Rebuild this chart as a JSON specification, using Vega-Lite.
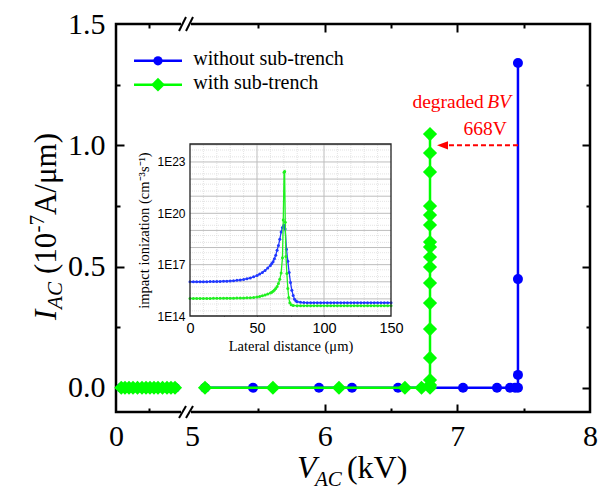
{
  "$schema": "https://vega.github.io/schema/vega-lite/v6.json",
  "width": 474,
  "height": 388,
  "autosize": {"type": "none"},
  "padding": {"left": 116, "top": 24, "right": 9, "bottom": 79},
  "background": "white",
  "config": {
    "view": {"stroke": "#000", "strokeWidth": 2.5},
    "font": "Liberation Serif"
  },
  "datasets": {
    "blue": [
      {"k": 1, "seg": "a", "kv": 0.08, "ia": 0}, {"k": 2, "seg": "a", "kv": 0.136, "ia": 0},
      {"k": 3, "seg": "a", "kv": 0.197, "ia": 0}, {"k": 4, "seg": "a", "kv": 0.258, "ia": 0},
      {"k": 5, "seg": "a", "kv": 0.326, "ia": 0}, {"k": 6, "seg": "a", "kv": 0.394, "ia": 0},
      {"k": 7, "seg": "a", "kv": 0.455, "ia": 0}, {"k": 8, "seg": "a", "kv": 0.515, "ia": 0},
      {"k": 9, "seg": "a", "kv": 0.576, "ia": 0}, {"k": 10, "seg": "a", "kv": 0.636, "ia": 0},
      {"k": 11, "seg": "a", "kv": 0.705, "ia": 0}, {"k": 12, "seg": "a", "kv": 0.773, "ia": 0},
      {"k": 13, "seg": "a", "kv": 0.833, "ia": 0}, {"k": 14, "seg": "a", "kv": 0.894, "ia": 0},
      {"k": 15, "seg": "b", "kv": 5.098, "ia": 0}, {"k": 16, "seg": "b", "kv": 5.46, "ia": 0},
      {"k": 17, "seg": "b", "kv": 5.957, "ia": 0}, {"k": 18, "seg": "b", "kv": 6.206, "ia": 0},
      {"k": 19, "seg": "b", "kv": 6.553, "ia": 0}, {"k": 20, "seg": "b", "kv": 7.043, "ia": 0},
      {"k": 21, "seg": "b", "kv": 7.299, "ia": 0}, {"k": 22, "seg": "b", "kv": 7.397, "ia": 0},
      {"k": 23, "seg": "b", "kv": 7.435, "ia": 0}, {"k": 24, "seg": "b", "kv": 7.457, "ia": 0},
      {"k": 25, "seg": "b", "kv": 7.457, "ia": 0.053}, {"k": 26, "seg": "b", "kv": 7.457, "ia": 0.448},
      {"k": 27, "seg": "b", "kv": 7.457, "ia": 1.339}
    ],
    "green": [
      {"k": 1, "seg": "a", "kv": 0.08, "ia": 0}, {"k": 2, "seg": "a", "kv": 0.136, "ia": 0},
      {"k": 3, "seg": "a", "kv": 0.197, "ia": 0}, {"k": 4, "seg": "a", "kv": 0.258, "ia": 0},
      {"k": 5, "seg": "a", "kv": 0.326, "ia": 0}, {"k": 6, "seg": "a", "kv": 0.394, "ia": 0},
      {"k": 7, "seg": "a", "kv": 0.455, "ia": 0}, {"k": 8, "seg": "a", "kv": 0.515, "ia": 0},
      {"k": 9, "seg": "a", "kv": 0.576, "ia": 0}, {"k": 10, "seg": "a", "kv": 0.636, "ia": 0},
      {"k": 11, "seg": "a", "kv": 0.705, "ia": 0}, {"k": 12, "seg": "a", "kv": 0.773, "ia": 0},
      {"k": 13, "seg": "a", "kv": 0.833, "ia": 0}, {"k": 14, "seg": "a", "kv": 0.894, "ia": 0},
      {"k": 15, "seg": "b", "kv": 5.098, "ia": 0}, {"k": 16, "seg": "b", "kv": 5.61, "ia": 0},
      {"k": 17, "seg": "b", "kv": 6.108, "ia": 0}, {"k": 18, "seg": "b", "kv": 6.605, "ia": 0},
      {"k": 19, "seg": "b", "kv": 6.73, "ia": 0}, {"k": 20, "seg": "b", "kv": 6.794, "ia": 0},
      {"k": 21, "seg": "b", "kv": 6.794, "ia": 0.011}, {"k": 22, "seg": "b", "kv": 6.794, "ia": 0.032},
      {"k": 23, "seg": "b", "kv": 6.794, "ia": 0.123}, {"k": 24, "seg": "b", "kv": 6.794, "ia": 0.242},
      {"k": 25, "seg": "b", "kv": 6.794, "ia": 0.349}, {"k": 26, "seg": "b", "kv": 6.794, "ia": 0.432},
      {"k": 27, "seg": "b", "kv": 6.794, "ia": 0.498}, {"k": 28, "seg": "b", "kv": 6.794, "ia": 0.539},
      {"k": 29, "seg": "b", "kv": 6.794, "ia": 0.58}, {"k": 30, "seg": "b", "kv": 6.794, "ia": 0.601},
      {"k": 31, "seg": "b", "kv": 6.794, "ia": 0.671}, {"k": 32, "seg": "b", "kv": 6.794, "ia": 0.712},
      {"k": 33, "seg": "b", "kv": 6.794, "ia": 0.749}, {"k": 34, "seg": "b", "kv": 6.794, "ia": 0.89},
      {"k": 35, "seg": "b", "kv": 6.794, "ia": 0.968}, {"k": 36, "seg": "b", "kv": 6.794, "ia": 1.046}
    ],
    "iblue": [
      {"x": 0, "v": 1.0e16}, {"x": 2.5, "v": 1.0e16}, {"x": 5, "v": 1.0e16}, {"x": 7.5, "v": 1.0e16},
      {"x": 10, "v": 1.0e16}, {"x": 12.5, "v": 1.01e16}, {"x": 15, "v": 1.02e16}, {"x": 17.5, "v": 1.03e16},
      {"x": 20, "v": 1.04e16}, {"x": 22.5, "v": 1.05e16}, {"x": 25, "v": 1.07e16}, {"x": 27.5, "v": 1.09e16},
      {"x": 30, "v": 1.12e16}, {"x": 32.5, "v": 1.16e16}, {"x": 35, "v": 1.21e16}, {"x": 37.5, "v": 1.28e16},
      {"x": 40, "v": 1.37e16}, {"x": 42.5, "v": 1.5e16}, {"x": 45, "v": 1.68e16}, {"x": 47.5, "v": 1.95e16},
      {"x": 50, "v": 2.3e16}, {"x": 52, "v": 2.8e16}, {"x": 54, "v": 3.5e16}, {"x": 56, "v": 4.6e16},
      {"x": 58, "v": 6.3e16}, {"x": 60, "v": 9e16}, {"x": 61, "v": 1.15e17}, {"x": 62, "v": 1.5e17},
      {"x": 63, "v": 2.2e17}, {"x": 64, "v": 3.6e17}, {"x": 65, "v": 7e17}, {"x": 66, "v": 1.3e18},
      {"x": 67, "v": 3e18}, {"x": 68, "v": 8e18}, {"x": 69, "v": 1.5e19}, {"x": 70, "v": 2e19},
      {"x": 71, "v": 1.2e19}, {"x": 72, "v": 8e17}, {"x": 73, "v": 1.6e17}, {"x": 74, "v": 3.5e16},
      {"x": 75, "v": 9e15}, {"x": 76, "v": 3.2e15}, {"x": 77, "v": 1.6e15}, {"x": 78, "v": 9.5e14},
      {"x": 79, "v": 7.5e14}, {"x": 80, "v": 6.8e14}, {"x": 82.5, "v": 6.3e14}, {"x": 85, "v": 6.1e14},
      {"x": 87.5, "v": 6e14}, {"x": 90, "v": 6e14}, {"x": 92.5, "v": 6e14}, {"x": 95, "v": 6e14},
      {"x": 97.5, "v": 6e14}, {"x": 100, "v": 6e14}, {"x": 102.5, "v": 6e14}, {"x": 105, "v": 6e14},
      {"x": 107.5, "v": 6e14}, {"x": 110, "v": 6e14}, {"x": 112.5, "v": 6e14}, {"x": 115, "v": 6e14},
      {"x": 117.5, "v": 6e14}, {"x": 120, "v": 6e14}, {"x": 122.5, "v": 6e14}, {"x": 125, "v": 6e14},
      {"x": 127.5, "v": 6e14}, {"x": 130, "v": 6e14}, {"x": 132.5, "v": 6e14}, {"x": 135, "v": 6e14},
      {"x": 137.5, "v": 6e14}, {"x": 140, "v": 6e14}, {"x": 142.5, "v": 6e14}, {"x": 145, "v": 6e14},
      {"x": 147.5, "v": 6e14}, {"x": 150, "v": 6e14}
    ],
    "igreen": [
      {"x": 0, "v": 1.07e15}, {"x": 2.5, "v": 1.07e15}, {"x": 5, "v": 1.07e15}, {"x": 7.5, "v": 1.07e15},
      {"x": 10, "v": 1.07e15}, {"x": 12.5, "v": 1.07e15}, {"x": 15, "v": 1.07e15}, {"x": 17.5, "v": 1.08e15},
      {"x": 20, "v": 1.08e15}, {"x": 22.5, "v": 1.08e15}, {"x": 25, "v": 1.09e15}, {"x": 27.5, "v": 1.09e15},
      {"x": 30, "v": 1.1e15}, {"x": 32.5, "v": 1.1e15}, {"x": 35, "v": 1.11e15}, {"x": 37.5, "v": 1.12e15},
      {"x": 40, "v": 1.13e15}, {"x": 42.5, "v": 1.15e15}, {"x": 45, "v": 1.17e15}, {"x": 47.5, "v": 1.22e15},
      {"x": 50, "v": 1.3e15}, {"x": 52, "v": 1.38e15}, {"x": 54, "v": 1.5e15}, {"x": 56, "v": 1.68e15},
      {"x": 58, "v": 1.9e15}, {"x": 60, "v": 2.2e15}, {"x": 61, "v": 2.45e15}, {"x": 62, "v": 2.8e15},
      {"x": 63, "v": 3.3e15}, {"x": 64, "v": 4e15}, {"x": 65, "v": 5.3e15}, {"x": 66, "v": 8e15},
      {"x": 67, "v": 1.4e16}, {"x": 68, "v": 3.2e16}, {"x": 69, "v": 2.5e17}, {"x": 69.6, "v": 4e19},
      {"x": 70.2, "v": 2.5e22}, {"x": 70.6, "v": 2.8e22}, {"x": 71.1, "v": 3e19}, {"x": 71.6, "v": 3e17},
      {"x": 72.3, "v": 3e16}, {"x": 73, "v": 4e15}, {"x": 73.7, "v": 1.2e15}, {"x": 74.5, "v": 6e14},
      {"x": 75.5, "v": 4.5e14}, {"x": 77, "v": 4.1e14}, {"x": 80, "v": 4e14}, {"x": 82.5, "v": 4e14},
      {"x": 85, "v": 4e14}, {"x": 87.5, "v": 4e14}, {"x": 90, "v": 4e14}, {"x": 92.5, "v": 4e14},
      {"x": 95, "v": 4e14}, {"x": 97.5, "v": 4e14}, {"x": 100, "v": 4e14}, {"x": 102.5, "v": 4e14},
      {"x": 105, "v": 4e14}, {"x": 107.5, "v": 4e14}, {"x": 110, "v": 4e14}, {"x": 112.5, "v": 4e14},
      {"x": 115, "v": 4e14}, {"x": 117.5, "v": 4e14}, {"x": 120, "v": 4e14}, {"x": 122.5, "v": 4e14},
      {"x": 125, "v": 4e14}, {"x": 127.5, "v": 4e14}, {"x": 130, "v": 4e14}, {"x": 132.5, "v": 4e14},
      {"x": 135, "v": 4e14}, {"x": 137.5, "v": 4e14}, {"x": 140, "v": 4e14}, {"x": 142.5, "v": 4e14},
      {"x": 145, "v": 4e14}, {"x": 147.5, "v": 4e14}, {"x": 150, "v": 4e14}
    ],
    "gridxMinor": [
      {"g": 10}, {"g": 20}, {"g": 30}, {"g": 40}, {"g": 60}, {"g": 70},
      {"g": 80}, {"g": 90}, {"g": 110}, {"g": 120}, {"g": 130}, {"g": 140}
    ],
    "gridxMajor": [{"g": 50}, {"g": 100}],
    "gridyMinor": [
      {"g": 2e14}, {"g": 5e14}, {"g": 2e15}, {"g": 5e15}, {"g": 2e16}, {"g": 5e16},
      {"g": 2e17}, {"g": 5e17}, {"g": 2e18}, {"g": 5e18}, {"g": 2e19}, {"g": 5e19},
      {"g": 2e20}, {"g": 5e20}, {"g": 2e21}, {"g": 5e21}, {"g": 2e22}, {"g": 5e22},
      {"g": 2e23}, {"g": 5e23}
    ],
    "gridyMajor": [
      {"g": 1e15}, {"g": 1e16}, {"g": 1e17}, {"g": 1e18}, {"g": 1e19},
      {"g": 1e20}, {"g": 1e21}, {"g": 1e22}, {"g": 1e23}, {"g": 1e24}
    ]
  },
  "layer": [
    {
      "layer": [
        {
          "data": {"name": "blue"},
          "mark": {"type": "line", "color": "#0000ff", "strokeWidth": 2.5},
          "encoding": {
            "x": {
              "field": "kv", "type": "quantitative", "title": null,
              "scale": {"domain": [0, 1, 5, 8], "range": [0, 66, 76, 474], "nice": false, "zero": false},
              "axis": {
                "orient": "bottom", "title": null, "domain": false, "grid": false, "ticks": false,
                "values": [0, 5, 6, 7, 8],
                "labelExpr": "format(datum.value, 'd')",
                "labelFont": "Liberation Serif", "labelFontSize": 30, "labelColor": "#000",
                "labelPadding": 9, "labelFlush": false, "labelOverlap": false, "labelBound": false
              }
            },
            "y": {
              "field": "ia", "type": "quantitative", "title": null,
              "scale": {"domain": [-0.1, 1.5], "nice": false, "zero": false},
              "axis": {
                "orient": "left", "title": null, "domain": false, "grid": false, "ticks": false,
                "values": [0, 0.5, 1, 1.5], "format": ".1f",
                "labelFont": "Liberation Serif", "labelFontSize": 30, "labelColor": "#000",
                "labelPadding": 11, "labelFlush": false, "labelOverlap": false, "labelBound": false
              }
            },
            "detail": {"field": "seg"},
            "order": {"field": "k", "type": "quantitative"}
          }
        },
        {
          "data": {"name": "blue"},
          "mark": {"type": "point", "shape": "circle", "filled": true, "size": 100, "color": "#0000ff", "opacity": 1},
          "encoding": {
            "x": {"field": "kv", "type": "quantitative", "title": null},
            "y": {"field": "ia", "type": "quantitative", "title": null}
          }
        },
        {
          "data": {"name": "green"},
          "mark": {"type": "line", "color": "#00ff00", "strokeWidth": 2.5},
          "encoding": {
            "x": {"field": "kv", "type": "quantitative", "title": null},
            "y": {"field": "ia", "type": "quantitative", "title": null},
            "detail": {"field": "seg"},
            "order": {"field": "k", "type": "quantitative"}
          }
        },
        {
          "data": {"name": "green"},
          "mark": {"type": "point", "shape": "diamond", "filled": true, "size": 200, "color": "#00ff00", "opacity": 1},
          "encoding": {
            "x": {"field": "kv", "type": "quantitative", "title": null},
            "y": {"field": "ia", "type": "quantitative", "title": null}
          }
        },
        {
          "data": {"values": [{}]},
          "mark": {"type": "rule", "color": "#ff0000", "strokeWidth": 1.8, "strokeDash": [5, 3]},
          "encoding": {"x": {"datum": 7.457}, "x2": {"datum": 6.9}, "y": {"datum": 1.0}}
        },
        {
          "data": {"values": [{}]},
          "mark": {"type": "point", "shape": "M-1,0L1,-0.75L1,0.75Z", "filled": true, "size": 121, "color": "#ff0000", "opacity": 1},
          "encoding": {"x": {"datum": 6.888}, "y": {"datum": 1.0}}
        },
        {
          "data": {"values": [{}]},
          "mark": {"type": "text", "text": "degraded", "font": "Liberation Serif", "fontSize": 19.5, "color": "#ff0000", "align": "right", "baseline": "alphabetic"},
          "encoding": {"x": {"datum": 7.2}, "y": {"datum": 1.153}}
        },
        {
          "data": {"values": [{}]},
          "mark": {"type": "text", "text": "BV", "font": "Liberation Serif", "fontStyle": "italic", "fontSize": 19.5, "color": "#ff0000", "align": "left", "baseline": "alphabetic"},
          "encoding": {"x": {"datum": 7.225}, "y": {"datum": 1.153}}
        },
        {
          "data": {"values": [{}]},
          "mark": {"type": "text", "text": "668V", "font": "Liberation Serif", "fontSize": 19.5, "color": "#ff0000", "align": "right", "baseline": "alphabetic"},
          "encoding": {"x": {"datum": 7.374}, "y": {"datum": 1.042}}
        },
        {
          "data": {"values": [{}]},
          "mark": {"type": "rule", "color": "#0000ff", "strokeWidth": 2.5},
          "encoding": {"x": {"datum": 0.273}, "x2": {"datum": 1.0}, "y": {"datum": 1.348}}
        },
        {
          "data": {"values": [{}]},
          "mark": {"type": "point", "shape": "circle", "filled": true, "size": 85, "color": "#0000ff", "opacity": 1},
          "encoding": {"x": {"datum": 0.636}, "y": {"datum": 1.348}}
        },
        {
          "data": {"values": [{}]},
          "mark": {"type": "text", "text": "without sub-trench", "font": "Liberation Serif", "fontSize": 20, "color": "#000", "align": "left", "baseline": "alphabetic"},
          "encoding": {"x": {"datum": 5.01}, "y": {"datum": 1.331}}
        },
        {
          "data": {"values": [{}]},
          "mark": {"type": "rule", "color": "#00ff00", "strokeWidth": 2.5},
          "encoding": {"x": {"datum": 0.273}, "x2": {"datum": 1.0}, "y": {"datum": 1.25}}
        },
        {
          "data": {"values": [{}]},
          "mark": {"type": "point", "shape": "diamond", "filled": true, "size": 190, "color": "#00ff00", "opacity": 1},
          "encoding": {"x": {"datum": 0.636}, "y": {"datum": 1.25}}
        },
        {
          "data": {"values": [{}]},
          "mark": {"type": "text", "text": "with sub-trench", "font": "Liberation Serif", "fontSize": 20, "color": "#000", "align": "left", "baseline": "alphabetic"},
          "encoding": {"x": {"datum": 5.01}, "y": {"datum": 1.233}}
        },
        {
          "data": {"values": [{}]},
          "mark": {"type": "rule", "color": "white", "strokeWidth": 6},
          "encoding": {"x": {"datum": 0.985}, "x2": {"datum": 4.6}, "y": {"datum": -0.1}}
        },
        {
          "data": {"values": [{}]},
          "mark": {"type": "rule", "color": "white", "strokeWidth": 6},
          "encoding": {"x": {"datum": 0.985}, "x2": {"datum": 4.6}, "y": {"datum": 1.5}}
        },
        {
          "data": {"values": [{}]},
          "mark": {"type": "rule", "color": "#000", "strokeWidth": 2},
          "encoding": {"x": {"datum": 0.955}, "x2": {"datum": 2.6}, "y": {"datum": -0.1247}, "y2": {"datum": -0.075}}
        },
        {
          "data": {"values": [{}]},
          "mark": {"type": "rule", "color": "#000", "strokeWidth": 2},
          "encoding": {"x": {"datum": 2.6}, "x2": {"datum": 5.0075}, "y": {"datum": -0.1247}, "y2": {"datum": -0.075}}
        },
        {
          "data": {"values": [{}]},
          "mark": {"type": "rule", "color": "#000", "strokeWidth": 2},
          "encoding": {"x": {"datum": 0.955}, "x2": {"datum": 2.6}, "y": {"datum": 1.4712}, "y2": {"datum": 1.529}}
        },
        {
          "data": {"values": [{}]},
          "mark": {"type": "rule", "color": "#000", "strokeWidth": 2},
          "encoding": {"x": {"datum": 2.6}, "x2": {"datum": 5.0075}, "y": {"datum": 1.4712}, "y2": {"datum": 1.529}}
        },
        {
          "data": {"values": [{}]},
          "mark": {"type": "text", "text": "I", "angle": 270, "font": "Liberation Serif", "fontStyle": "italic", "fontSize": 31, "color": "#000", "align": "left", "baseline": "alphabetic"},
          "encoding": {"x": {"datum": -0.909}, "y": {"datum": 0.279}}
        },
        {
          "data": {"values": [{}]},
          "mark": {"type": "text", "text": "AC", "angle": 270, "font": "Liberation Serif", "fontStyle": "italic", "fontSize": 21, "color": "#000", "align": "left", "baseline": "alphabetic"},
          "encoding": {"x": {"datum": -0.818}, "y": {"datum": 0.325}}
        },
        {
          "data": {"values": [{}]},
          "mark": {"type": "text", "text": "(10", "angle": 270, "font": "Liberation Serif", "fontSize": 31, "color": "#000", "align": "left", "baseline": "alphabetic"},
          "encoding": {"x": {"datum": -0.909}, "y": {"datum": 0.469}}
        },
        {
          "data": {"values": [{}]},
          "mark": {"type": "text", "text": "-7", "angle": 270, "font": "Liberation Serif", "fontSize": 21, "color": "#000", "align": "left", "baseline": "alphabetic"},
          "encoding": {"x": {"datum": -1.091}, "y": {"datum": 0.64}}
        },
        {
          "data": {"values": [{}]},
          "mark": {"type": "text", "text": "A/μm)", "angle": 270, "font": "Liberation Serif", "fontSize": 31, "color": "#000", "align": "left", "baseline": "alphabetic"},
          "encoding": {"x": {"datum": -0.909}, "y": {"datum": 0.712}}
        },
        {
          "data": {"values": [{}]},
          "mark": {"type": "text", "text": "V", "font": "Liberation Serif", "fontStyle": "italic", "fontSize": 32, "color": "#000", "align": "left", "baseline": "alphabetic"},
          "encoding": {"x": {"datum": 5.791}, "y": {"datum": -0.372}}
        },
        {
          "data": {"values": [{}]},
          "mark": {"type": "text", "text": "AC", "font": "Liberation Serif", "fontStyle": "italic", "fontSize": 21, "color": "#000", "align": "left", "baseline": "alphabetic"},
          "encoding": {"x": {"datum": 5.927}, "y": {"datum": -0.405}}
        },
        {
          "data": {"values": [{}]},
          "mark": {"type": "text", "text": "(kV)", "font": "Liberation Serif", "fontSize": 32, "color": "#000", "align": "left", "baseline": "alphabetic"},
          "encoding": {"x": {"datum": 6.168}, "y": {"datum": -0.372}}
        }
      ]
    },
    {
      "layer": [
        {
          "data": {"values": [{}]},
          "mark": {"type": "rect", "fill": "white", "strokeWidth": 0},
          "encoding": {
            "x": {
              "datum": 0, "type": "quantitative", "title": "Lateral distance (μm)",
              "scale": {"domain": [0, 150], "range": [74, 275], "nice": false, "zero": false},
              "axis": {
                "orient": "bottom", "offset": -96, "title": "Lateral distance (μm)",
                "values": [0, 50, 100, 150], "domain": false, "grid": false, "ticks": false,
                "labelFont": "Liberation Sans", "labelFontSize": 14.5, "labelColor": "#000",
                "labelPadding": 5, "labelFlush": false, "labelOverlap": false, "labelBound": false,
                "titleFont": "Liberation Serif", "titleFontSize": 14.5, "titleFontWeight": "normal",
                "titleColor": "#000", "titlePadding": 5
              }
            },
            "x2": {"datum": 150},
            "y": {
              "datum": 1e14, "type": "quantitative", "title": "impact ionization (cm⁻³s⁻¹)",
              "scale": {"type": "log", "domain": [1e14, 1.12e24], "range": [292, 120], "nice": false},
              "axis": {
                "orient": "left", "offset": -74, "title": "impact ionization (cm⁻³s⁻¹)",
                "values": [1e14, 1e17, 1e20, 1e23],
                "domain": false, "grid": false, "ticks": false,
                "labelExpr": "'1E' + round(log(datum.value) / LN10)",
                "labelFont": "Liberation Sans", "labelFontSize": 12, "labelColor": "#000",
                "labelPadding": 5, "labelFlush": false, "labelOverlap": false, "labelBound": false,
                "titleFont": "Liberation Serif", "titleFontSize": 14.5, "titleFontWeight": "normal",
                "titleColor": "#000", "titlePadding": 5
              }
            },
            "y2": {"datum": 1.12e24}
          }
        },
        {
          "data": {"name": "gridxMinor"},
          "mark": {"type": "rule", "color": "#dcdcdc", "strokeWidth": 0.8, "strokeDash": [1, 1]},
          "encoding": {
            "x": {"field": "g", "type": "quantitative", "title": "Lateral distance (μm)"},
            "y": {"datum": 1e14}, "y2": {"datum": 1.12e24}
          }
        },
        {
          "data": {"name": "gridyMinor"},
          "mark": {"type": "rule", "color": "#dcdcdc", "strokeWidth": 0.8, "strokeDash": [1, 1]},
          "encoding": {
            "y": {"field": "g", "type": "quantitative", "title": "impact ionization (cm⁻³s⁻¹)"},
            "x": {"datum": 0}, "x2": {"datum": 150}
          }
        },
        {
          "data": {"name": "gridxMajor"},
          "mark": {"type": "rule", "color": "#bdbdbd", "strokeWidth": 1},
          "encoding": {
            "x": {"field": "g", "type": "quantitative", "title": "Lateral distance (μm)"},
            "y": {"datum": 1e14}, "y2": {"datum": 1.12e24}
          }
        },
        {
          "data": {"name": "gridyMajor"},
          "mark": {"type": "rule", "color": "#bdbdbd", "strokeWidth": 1},
          "encoding": {
            "y": {"field": "g", "type": "quantitative", "title": "impact ionization (cm⁻³s⁻¹)"},
            "x": {"datum": 0}, "x2": {"datum": 150}
          }
        },
        {
          "data": {"name": "iblue"},
          "mark": {"type": "line", "color": "#2038ff", "strokeWidth": 1.3, "point": {"filled": true, "size": 9, "color": "#2038ff"}},
          "encoding": {
            "x": {"field": "x", "type": "quantitative", "title": "Lateral distance (μm)"},
            "y": {"field": "v", "type": "quantitative", "title": "impact ionization (cm⁻³s⁻¹)"}
          }
        },
        {
          "data": {"name": "igreen"},
          "mark": {"type": "line", "color": "#20f020", "strokeWidth": 1.3, "point": {"filled": true, "size": 9, "color": "#20f020"}},
          "encoding": {
            "x": {"field": "x", "type": "quantitative", "title": "Lateral distance (μm)"},
            "y": {"field": "v", "type": "quantitative", "title": "impact ionization (cm⁻³s⁻¹)"}
          }
        },
        {
          "data": {"values": [{}]},
          "mark": {"type": "rect", "fill": null, "fillOpacity": 0, "stroke": "#222", "strokeWidth": 1.3},
          "encoding": {
            "x": {"datum": 0}, "x2": {"datum": 150},
            "y": {"datum": 1e14}, "y2": {"datum": 1.12e24}
          }
        }
      ]
    },
    {
      "data": {"name": "iblue"},
      "mark": {"type": "point", "opacity": 0},
      "encoding": {
        "x": {
          "field": "x", "type": "quantitative", "title": null,
          "scale": {"domain": [0, 150], "range": [74, 275], "nice": false, "zero": false},
          "axis": {"orient": "bottom", "offset": -99, "title": null, "labels": false, "domain": false, "grid": false,
                   "values": [25, 50, 75, 100, 125], "tickSize": 3, "tickColor": "#222", "tickWidth": 1}
        },
        "y": {
          "field": "v", "type": "quantitative", "title": null,
          "scale": {"type": "log", "domain": [1e14, 1.12e24], "range": [292, 120], "nice": false},
          "axis": {"orient": "left", "offset": -77, "title": null, "labels": false, "domain": false, "grid": false,
                   "values": [1e15, 1e16, 1e17, 1e18, 1e19, 1e20, 1e21, 1e22, 1e23, 1e24], "tickSize": 3, "tickColor": "#222", "tickWidth": 1}
        }
      }
    },
    {
      "data": {"name": "blue"},
      "mark": {"type": "point", "opacity": 0},
      "encoding": {
        "x": {
          "field": "kv", "type": "quantitative", "title": null,
          "scale": {"domain": [0, 1, 5, 8], "range": [0, 66, 76, 474], "nice": false, "zero": false},
          "axis": {"orient": "bottom", "offset": -8, "title": null, "labels": false, "domain": false, "grid": false,
                   "values": [6, 7], "tickSize": 8, "tickColor": "#000", "tickWidth": 2}
        },
        "y": {
          "field": "ia", "type": "quantitative", "title": null,
          "scale": {"domain": [-0.1, 1.5], "nice": false, "zero": false},
          "axis": {"orient": "left", "offset": -8, "title": null, "labels": false, "domain": false, "grid": false,
                   "values": [0, 0.5, 1], "tickSize": 8, "tickColor": "#000", "tickWidth": 2}
        }
      }
    },
    {
      "data": {"name": "blue"},
      "mark": {"type": "point", "opacity": 0},
      "encoding": {
        "x": {
          "field": "kv", "type": "quantitative", "title": null,
          "scale": {"domain": [0, 1, 5, 8], "range": [0, 66, 76, 474], "nice": false, "zero": false},
          "axis": {"orient": "bottom", "offset": -4, "title": null, "labels": false, "domain": false, "grid": false,
                   "values": [0.5, 5.5, 6.5, 7.5], "tickSize": 4, "tickColor": "#000", "tickWidth": 2}
        },
        "y": {
          "field": "ia", "type": "quantitative", "title": null,
          "scale": {"domain": [-0.1, 1.5], "nice": false, "zero": false},
          "axis": {"orient": "left", "offset": -4, "title": null, "labels": false, "domain": false, "grid": false,
                   "values": [0.25, 0.75, 1.25], "tickSize": 4, "tickColor": "#000", "tickWidth": 2}
        }
      }
    },
    {
      "data": {"name": "blue"},
      "mark": {"type": "point", "opacity": 0},
      "encoding": {
        "x": {
          "field": "kv", "type": "quantitative", "title": null,
          "scale": {"domain": [0, 1, 5, 8], "range": [0, 66, 76, 474], "nice": false, "zero": false},
          "axis": {"orient": "top", "offset": -8, "title": null, "labels": false, "domain": false, "grid": false,
                   "values": [6, 7], "tickSize": 8, "tickColor": "#000", "tickWidth": 2}
        },
        "y": {
          "field": "ia", "type": "quantitative", "title": null,
          "scale": {"domain": [-0.1, 1.5], "nice": false, "zero": false},
          "axis": {"orient": "right", "offset": -8, "title": null, "labels": false, "domain": false, "grid": false,
                   "values": [0, 0.5, 1], "tickSize": 8, "tickColor": "#000", "tickWidth": 2}
        }
      }
    },
    {
      "data": {"name": "blue"},
      "mark": {"type": "point", "opacity": 0},
      "encoding": {
        "x": {
          "field": "kv", "type": "quantitative", "title": null,
          "scale": {"domain": [0, 1, 5, 8], "range": [0, 66, 76, 474], "nice": false, "zero": false},
          "axis": {"orient": "top", "offset": -4, "title": null, "labels": false, "domain": false, "grid": false,
                   "values": [0.5, 5.5, 6.5, 7.5], "tickSize": 4, "tickColor": "#000", "tickWidth": 2}
        },
        "y": {
          "field": "ia", "type": "quantitative", "title": null,
          "scale": {"domain": [-0.1, 1.5], "nice": false, "zero": false},
          "axis": {"orient": "right", "offset": -4, "title": null, "labels": false, "domain": false, "grid": false,
                   "values": [0.25, 0.75, 1.25], "tickSize": 4, "tickColor": "#000", "tickWidth": 2}
        }
      }
    }
  ],
  "resolve": {"scale": {"x": "independent", "y": "independent"}}
}
